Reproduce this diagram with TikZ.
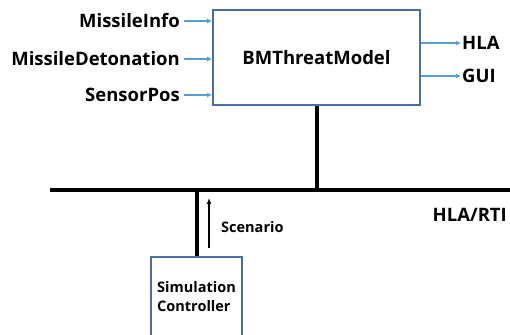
\documentclass[tikz,border=0pt]{standalone}
\usepackage{fontspec}
\setmainfont{Open Sans}
\usepackage{tikz}
\usetikzlibrary{arrows.meta,positioning,calc}
\definecolor{boxblue}{RGB}{74,110,160}
\definecolor{arrblue}{RGB}{91,155,213}

\begin{document}
\begin{tikzpicture}[
  x=1pt, y=1pt,
  modelbox/.style={draw=boxblue, line width=1.8pt, minimum width=207pt, minimum height=95pt, align=center, font=\fontsize{18.5}{22}\selectfont\bfseries},
  ctrlbox/.style={draw=boxblue, line width=1.8pt, minimum width=91pt, minimum height=80pt, align=left, font=\fontsize{14.5}{19}\selectfont\bfseries},
  lbl/.style={font=\fontsize{18.5}{22}\selectfont\bfseries, inner sep=1pt},
  inarr/.style={-{Latex[length=5pt,width=5pt]}, arrblue, line width=1.8pt},
  bus/.style={line width=4pt, black},
  arr/.style={-{Latex[length=6pt,width=5pt]}, line width=1.3pt}
]
\useasboundingbox (0,0) rectangle (510,334);

% BMThreatModel
\node[modelbox] (model) at (316.5,276.5) {BMThreatModel};

% inputs
\node[lbl, anchor=east] (info) at (181,313) {MissileInfo};
\node[lbl, anchor=east] (deto) at (181,275) {MissileDetonation};
\node[lbl, anchor=east] (sens) at (181,239) {SensorPos};
\draw[inarr] ($(info.east)+(3,0)$) -- (info.east -| model.west);
\draw[inarr] ($(deto.east)+(3,0)$) -- (deto.east -| model.west);
\draw[inarr] ($(sens.east)+(3,0)$) -- (sens.east -| model.west);

% outputs
\node[lbl, anchor=west] (hla) at (461,291) {HLA};
\node[lbl, anchor=west] (gui) at (461,258) {GUI};
\draw[inarr] (hla.west -| model.east) -- (hla.west);
\draw[inarr] (gui.west -| model.east) -- (gui.west);

% HLA/RTI bus
\coordinate (busL) at (50,144);
\coordinate (busR) at (512,144);
\draw[bus] (busL) -- (busR);
\node[lbl, anchor=east] (rti) at (508,119) {HLA/RTI};
\draw[bus] (model.south) -- (model.south |- busL);

% Simulation Controller
\node[ctrlbox] (ctrl) at (196.5,37) {Simulation\\Controller};
\draw[bus] (ctrl.north) -- (ctrl.north |- busL);
\coordinate (scnB) at (209,86);
\coordinate (scnT) at (209,136);
\draw[arr] (scnB) -- (scnT);
\node[lbl, anchor=west, font=\fontsize{14.5}{17}\selectfont\bfseries] (scn) at (220,107) {Scenario};

\end{tikzpicture}
\end{document}
